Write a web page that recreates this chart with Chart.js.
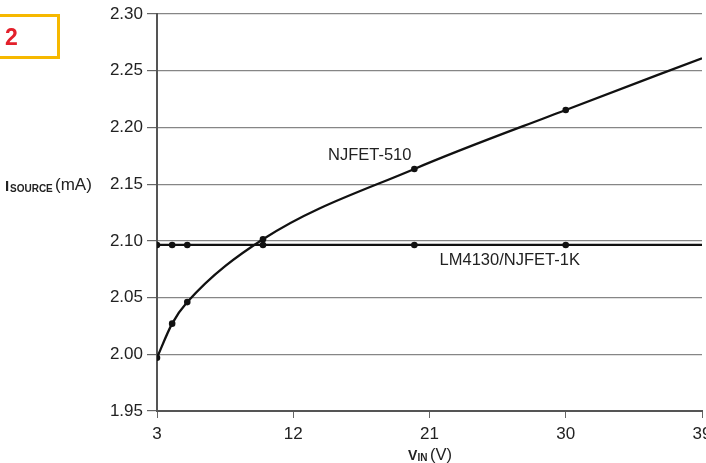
<!DOCTYPE html>
<html><head><meta charset="utf-8">
<script src="https://cdn.jsdelivr.net/npm/chart.js@4/dist/chart.umd.min.js"></script>
<style>
html,body{margin:0;padding:0;background:#fff;}
#wrap{position:relative;width:706px;height:463px;}
#box{position:absolute;left:-4px;top:14px;width:64px;height:45px;border:3px solid #F6B800;box-sizing:border-box;}
#num{position:absolute;left:5px;top:24px;line-height:24px;font:900 23px "Liberation Sans",Arial,sans-serif;color:#E3202B;}
</style></head>
<body><div id="wrap"><canvas id="c" width="706" height="463"></canvas><div id="box"></div><div id="num">2</div></div>
<script>
const vin = [3, 4, 5, 10, 20, 30, 39];
const njfet510 = [1.997, 2.027, 2.046, 2.1014, 2.1634, 2.2154, 2.261];
const lm4130 = [2.0964, 2.0964, 2.0964, 2.0964, 2.0964, 2.0964, 2.0964];
const markerRadius = [3.3, 3.3, 3.3, 3.3, 3.3, 3.3, 0];
const xTicks = [3, 12, 21, 30, 39];
const yTicks = [1.95, 2.00, 2.05, 2.10, 2.15, 2.20, 2.25, 2.30];
const seriesNames = ['NJFET-510', 'LM4130/NJFET-1K'];

const FONT = '"Liberation Sans", Arial, sans-serif';

const textPlugin = {
  id: 'texts',
  afterDraw(chart) {
    const ctx = chart.ctx;
    const xs = chart.scales.x, ys = chart.scales.y;
    ctx.save();
    ctx.fillStyle = '#222';
    ctx.textBaseline = 'middle';
    ctx.textAlign = 'center';
    ctx.font = '16.5px ' + FONT;
    ctx.fillText(seriesNames[0], xs.getPixelForValue(17.05), ys.getPixelForValue(2.175));
    ctx.fillText(seriesNames[1], xs.getPixelForValue(26.3), ys.getPixelForValue(2.0825));
    // y title
    ctx.textAlign = 'left';
    ctx.textBaseline = 'alphabetic';
    let y = 191;
    ctx.font = 'bold 15px ' + FONT;
    ctx.fillText('I', 5, y);
    ctx.font = 'bold 10px ' + FONT;
    ctx.fillText('SOURCE', 10, y + 0.5);
    ctx.font = '17px ' + FONT;
    ctx.fillText('(mA)', 55, y - 1);
    // x title
    y = 460;
    ctx.font = 'bold 14px ' + FONT;
    ctx.fillText('V', 408, y);
    ctx.font = 'bold 10px ' + FONT;
    ctx.fillText('IN', 417.5, y + 0.5);
    ctx.font = '16.5px ' + FONT;
    ctx.fillText('(V)', 430, y);
    ctx.restore();
  }
};

new Chart(document.getElementById('c'), {
  type: 'line',
  data: {
    datasets: [
      {
        label: seriesNames[0],
        data: vin.map((v, i) => ({x: v, y: njfet510[i]})),
        borderColor: '#111', backgroundColor: '#111', borderWidth: 2.3,
        pointRadius: markerRadius, pointBorderWidth: 0,
        cubicInterpolationMode: 'monotone', order: 0
      },
      {
        label: seriesNames[1],
        data: vin.map((v, i) => ({x: v, y: lm4130[i]})),
        borderColor: '#111', backgroundColor: '#111', borderWidth: 2.3,
        pointRadius: markerRadius, pointBorderWidth: 0, order: 1
      }
    ]
  },
  options: {
    responsive: false, animation: false,
    layout: {padding: {top: 14, left: 0, right: 0, bottom: 0}},
    plugins: {legend: {display: false}, tooltip: {enabled: false}},
    scales: {
      x: {
        type: 'linear', min: 3, max: 39,
        afterBuildTicks: s => { s.ticks = xTicks.map(v => ({value: v})); },
        afterFit: s => { s.height = 52; s.paddingLeft = 0; s.paddingRight = 0; },
        border: {color: '#555', width: 2},
        grid: {drawOnChartArea: false, drawTicks: true, tickLength: 7, tickColor: '#666', tickWidth: 1},
        ticks: {color: '#222', font: {family: FONT, size: 17}, padding: 6, maxRotation: 0, autoSkip: false}
      },
      y: {
        type: 'linear', min: 1.95, max: 2.30,
        afterBuildTicks: s => { s.ticks = yTicks.map(v => ({value: v})); },
        afterFit: s => { s.width = 157; s.paddingTop = 0; s.paddingBottom = 0; },
        border: {color: '#555', width: 2},
        grid: {color: '#868686', lineWidth: 1.2, drawTicks: true, tickLength: 10, tickColor: '#666'},
        ticks: {color: '#222', font: {family: FONT, size: 17}, padding: 4, callback: v => v.toFixed(2)}
      }
    }
  },
  plugins: [textPlugin]
});
</script></body></html>
